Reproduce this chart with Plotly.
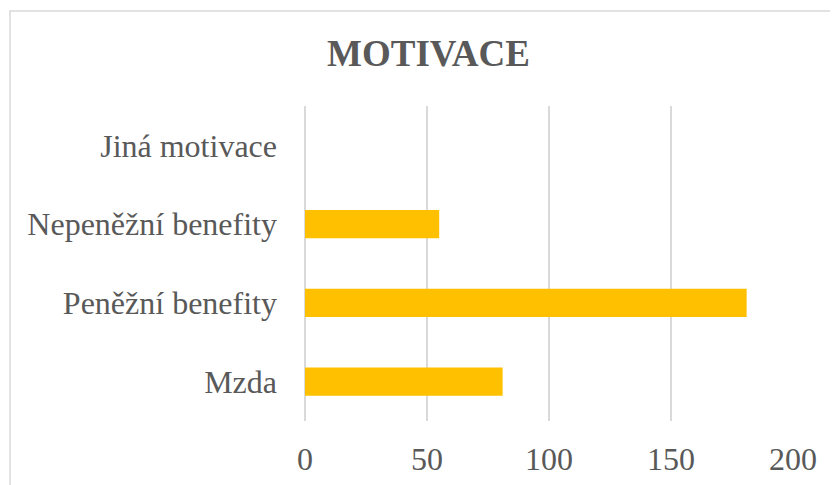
import plotly.graph_objects as go

categories = ["Mzda", "Peněžní benefity", "Nepeněžní benefity", "Jiná motivace"]
values = [81, 181, 55, 0]
x_ticks = [0, 50, 100, 150, 200]
title_text = "MOTIVACE"

# page has an 8px body margin; figure is sized to fill the rest
OFF = 8
W, H = 838 - OFF, 485 - OFF
L, R, T, B = 305 - OFF, 45, 106 - OFF, 64
pw, ph = W - L - R, H - T - B

fig = go.Figure(go.Bar(
    y=categories, x=values, orientation="h",
    marker=dict(color="#FFC000", line=dict(width=0)),
    width=0.356,
))

def px_to_paper_x(px):
    return (px - OFF - L) / pw

def px_to_paper_y(py):
    return (H - B - (py - OFF)) / ph

fig.add_shape(type="rect", xref="paper", yref="paper",
              x0=px_to_paper_x(10), x1=px_to_paper_x(900),
              y0=px_to_paper_y(560), y1=px_to_paper_y(11),
              line=dict(color="#d9d9d9", width=1.5), fillcolor="rgba(0,0,0,0)", layer="below")

fig.update_layout(
    width=W, height=H,
    margin=dict(l=L, r=R, t=T, b=B, autoexpand=False),
    paper_bgcolor="white", plot_bgcolor="white",
    showlegend=False,
    font=dict(family="Liberation Serif", color="#595959", size=32),
    title=dict(text="<b>" + title_text + "</b>", x=(428.5 - OFF) / W, xanchor="center",
               y=1 - (53 - OFF) / H, yanchor="middle", yref="container",
               font=dict(family="Liberation Serif", size=37, color="#595959")),
    xaxis=dict(range=[0, 200], tickvals=x_ticks, showgrid=True, gridcolor="#d9d9d9",
               gridwidth=1.5, zeroline=True, zerolinecolor="#d9d9d9", zerolinewidth=1.5,
               showline=False, ticks="", ticklabelstandoff=16, automargin=False,
               tickfont=dict(size=32, color="#595959")),
    yaxis=dict(categoryorder="array", categoryarray=categories, showgrid=False,
               zeroline=False, showline=False, ticks="", ticklabelstandoff=27,
               automargin=False, tickfont=dict(size=32, color="#595959")),
)

fig.write_html("out.html")
